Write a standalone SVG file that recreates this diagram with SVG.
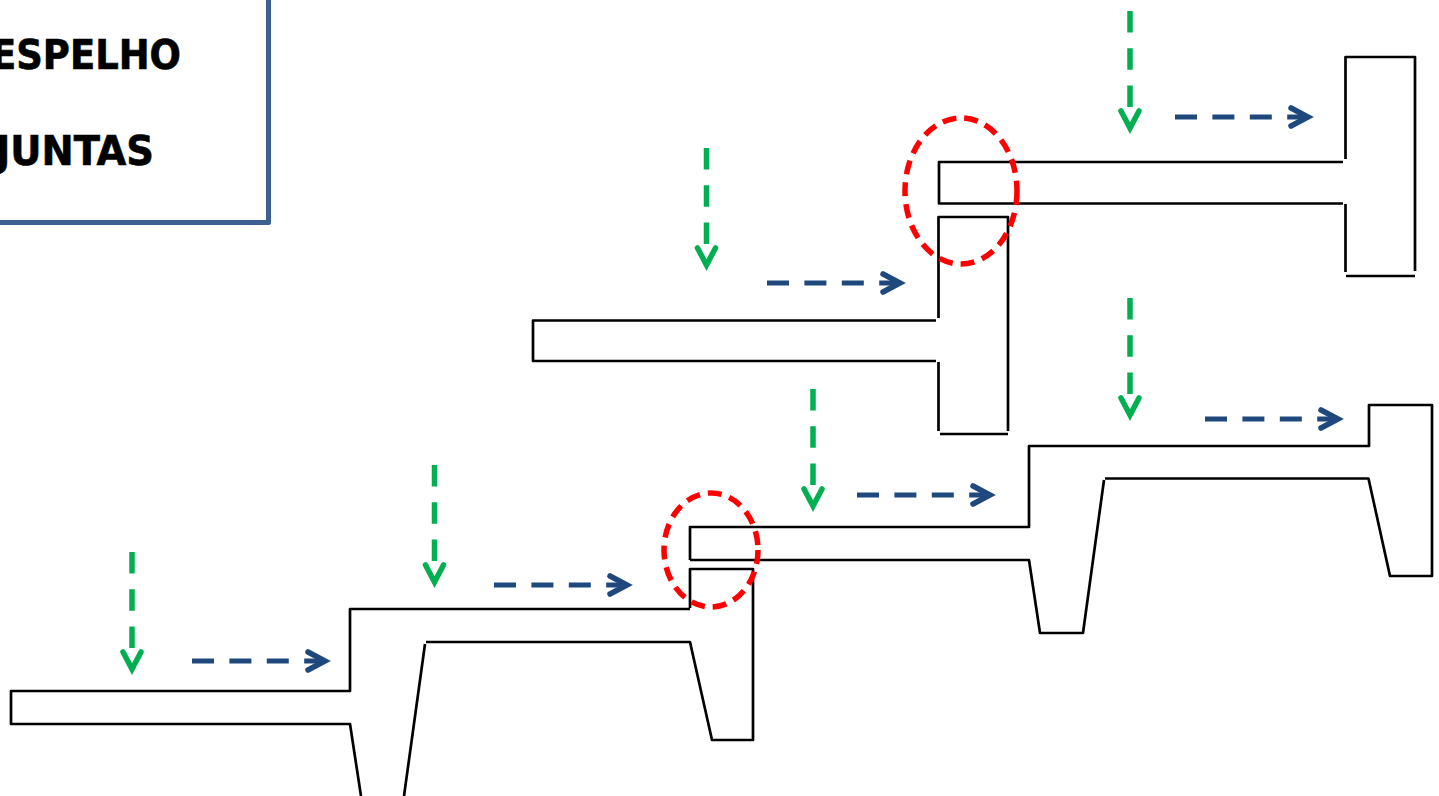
<svg xmlns="http://www.w3.org/2000/svg" width="1439" height="796" viewBox="0 0 1439 796">
<style>
.s{fill:none;stroke:#000;stroke-width:2.7;stroke-linejoin:round;stroke-linecap:butt}
.g{fill:none;stroke:#00b050;stroke-width:5.500}
.gd{stroke-dasharray:21.500 15.800}
.gh{stroke-linecap:round;stroke-width:5.500}
.b{fill:none;stroke:#1f497d;stroke-width:5}
.bd{stroke-dasharray:22 15.400}
.bh{stroke-linecap:round;stroke-width:5.500}
.r{fill:none;stroke:#f00;stroke-width:5.500;stroke-dasharray:14 8}
.t{font-family:"DejaVu Sans Condensed","DejaVu Sans","Liberation Sans",sans-serif;font-weight:700;font-size:41px;fill:#000;stroke:#000;stroke-width:.6}
</style>
<rect width="1439" height="796" fill="#fff"/>
<g id="legend">
<path d="M268.500 0V222.500H0" fill="none" stroke="#3c6191" stroke-width="5" stroke-linejoin="round"/>
<text class="t" x="-9" y="69" textLength="190" lengthAdjust="spacingAndGlyphs">ESPELHO</text>
<text class="t" x="-4" y="165" textLength="158" lengthAdjust="spacingAndGlyphs">JUNTAS</text>
</g>
<g id="profile-top">
<path class="s" d="M1345.500 159V57H1415V271M1346 276H1415M1345.500 204V272M1343 162H939V203.500H1343"/>
</g>
<g id="profile-middle">
<path class="s" d="M938.500 318V217H1008V431M940 434H1008M938.500 362V431M936 320.500H533V361H936"/>
</g>
<g id="profile-right-lower">
<path class="s" d="M690 560V527H1029V446H1369V405H1432V576H1390L1368.500 478.500H1105M1104 480L1083 633H1040L1029 560H690"/>
</g>
<g id="profile-left-lower">
<path class="s" d="M690 608V569H753V740H712L690 642H426M425 644L404 796M361 796L350 724H11V691H350V609H690"/>
</g>
<g id="connectors">
<path class="g gd" d="M1130 11V107"/><path class="g gh" d="M1121 111L1130 128L1139 111"/>
<path class="g gd" d="M706.500 148V244"/><path class="g gh" d="M697.500 248L706.500 265L715.500 248"/>
<path class="g gd" d="M1130 298V394"/><path class="g gh" d="M1121 398L1130 415L1139 398"/>
<path class="g gd" d="M813 389V485"/><path class="g gh" d="M804 489L813 506L822 489"/>
<path class="g gd" d="M434.500 465V561"/><path class="g gh" d="M425.500 565L434.500 582L443.500 565"/>
<path class="g gd" d="M132 552V648"/><path class="g gh" d="M123 652L132 669L141 652"/>
<path class="b bd" d="M1175 117H1305"/><path class="b bh" d="M1291 108L1308 117L1291 126"/>
<path class="b bd" d="M767 283H897"/><path class="b bh" d="M883 274L900 283L883 292"/>
<path class="b bd" d="M1205 419H1335"/><path class="b bh" d="M1321 410L1338 419L1321 428"/>
<path class="b bd" d="M857 495H987"/><path class="b bh" d="M973 486L990 495L973 504"/>
<path class="b bd" d="M494 585H624"/><path class="b bh" d="M610 576L627 585L610 594"/>
<path class="b bd" d="M192 661H322"/><path class="b bh" d="M308 652L325 661L308 670"/>
</g>
<g id="highlights">
<ellipse class="r" cx="961" cy="191" rx="56" ry="73"/>
<ellipse class="r" cx="711" cy="550" rx="47" ry="57"/>
</g>
</svg>
